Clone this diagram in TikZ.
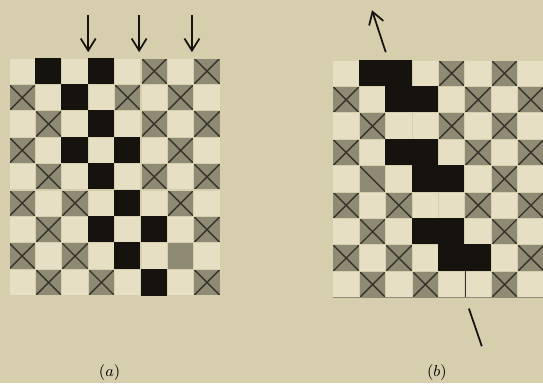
\documentclass[tikz,border=0pt]{standalone}
\usepackage{tikz}
\usetikzlibrary{arrows.meta}
\definecolor{paperTan}{HTML}{D6CEAD}
\definecolor{sqLight}{HTML}{E6DFC4}
\definecolor{sqGray}{HTML}{8F8A74}
\definecolor{sqLine}{HTML}{35332B}
\definecolor{sqInk}{HTML}{16130F}

\begin{document}
\begin{tikzpicture}[x=0.528cm,y=0.528cm,
  lt/.style={fill=sqLight,draw=paperTan,line width=0.6pt},
  gr/.style={fill=sqGray,draw=paperTan,line width=0.6pt},
  gx/.style={gr,path picture={
    \draw[sqLine,line width=0.8pt]
      (path picture bounding box.south west) -- (path picture bounding box.north east)
      (path picture bounding box.north west) -- (path picture bounding box.south east);}},
  gd/.style={gr,path picture={
    \draw[sqLine,line width=0.8pt]
      (path picture bounding box.north west) -- (path picture bounding box.south east);}},
  bk/.style={fill=sqInk,draw=sqInk,line width=0.5pt},
  flow/.style={sqInk,line width=1pt},
  flowarrow/.style={flow,-{Straight Barb[length=2.4mm,width=3mm]}},
  caption/.style={font=\fontsize{9.5pt}{11pt}\selectfont}]
  \fill[paperTan] (-0.3410,-3.3110) rectangle (20.2270,11.1970);
  \useasboundingbox (-0.3410,-3.3110) rectangle (20.2270,11.1970);

  % (a)
  \filldraw[lt] (0.0000,8.0000) rectangle (1.0000,9.0000);
  \filldraw[bk] (1.0000,8.0000) rectangle (2.0000,9.0000);
  \filldraw[lt] (2.0000,8.0000) rectangle (3.0000,9.0000);
  \filldraw[bk] (3.0000,8.0000) rectangle (4.0000,9.0000);
  \filldraw[lt] (4.0000,8.0000) rectangle (5.0000,9.0000);
  \filldraw[gx] (5.0000,8.0000) rectangle (6.0000,9.0000);
  \filldraw[lt] (6.0000,8.0000) rectangle (7.0000,9.0000);
  \filldraw[gx] (7.0000,8.0000) rectangle (8.0000,9.0000);
  \filldraw[gx] (0.0000,7.0000) rectangle (1.0000,8.0000);
  \filldraw[lt] (1.0000,7.0000) rectangle (2.0000,8.0000);
  \filldraw[bk] (2.0000,7.0000) rectangle (3.0000,8.0000);
  \filldraw[lt] (3.0000,7.0000) rectangle (4.0000,8.0000);
  \filldraw[gx] (4.0000,7.0000) rectangle (5.0000,8.0000);
  \filldraw[lt] (5.0000,7.0000) rectangle (6.0000,8.0000);
  \filldraw[gx] (6.0000,7.0000) rectangle (7.0000,8.0000);
  \filldraw[lt] (7.0000,7.0000) rectangle (8.0000,8.0000);
  \filldraw[lt] (0.0000,6.0000) rectangle (1.0000,7.0000);
  \filldraw[gx] (1.0000,6.0000) rectangle (2.0000,7.0000);
  \filldraw[lt] (2.0000,6.0000) rectangle (3.0000,7.0000);
  \filldraw[bk] (3.0000,6.0000) rectangle (4.0000,7.0000);
  \filldraw[lt] (4.0000,6.0000) rectangle (5.0000,7.0000);
  \filldraw[gx] (5.0000,6.0000) rectangle (6.0000,7.0000);
  \filldraw[lt] (6.0000,6.0000) rectangle (7.0000,7.0000);
  \filldraw[gx] (7.0000,6.0000) rectangle (8.0000,7.0000);
  \filldraw[gx] (0.0000,5.0000) rectangle (1.0000,6.0000);
  \filldraw[lt] (1.0000,5.0000) rectangle (2.0000,6.0000);
  \filldraw[bk] (2.0000,5.0000) rectangle (3.0000,6.0000);
  \filldraw[lt] (3.0000,5.0000) rectangle (4.0000,6.0000);
  \filldraw[bk] (4.0000,5.0000) rectangle (5.0000,6.0000);
  \filldraw[lt] (5.0000,5.0000) rectangle (6.0000,6.0000);
  \filldraw[gx] (6.0000,5.0000) rectangle (7.0000,6.0000);
  \filldraw[lt] (7.0000,5.0000) rectangle (8.0000,6.0000);
  \filldraw[lt] (0.0000,4.0000) rectangle (1.0000,5.0000);
  \filldraw[gx] (1.0000,4.0000) rectangle (2.0000,5.0000);
  \filldraw[lt] (2.0000,4.0000) rectangle (3.0000,5.0000);
  \filldraw[bk] (3.0000,4.0000) rectangle (4.0000,5.0000);
  \filldraw[lt] (4.0000,4.0000) rectangle (5.0000,5.0000);
  \filldraw[gx] (5.0000,4.0000) rectangle (6.0000,5.0000);
  \filldraw[lt] (6.0000,4.0000) rectangle (7.0000,5.0000);
  \filldraw[gx] (7.0000,4.0000) rectangle (8.0000,5.0000);
  \filldraw[gx] (0.0000,3.0000) rectangle (1.0000,4.0000);
  \filldraw[lt] (1.0000,3.0000) rectangle (2.0000,4.0000);
  \filldraw[gx] (2.0000,3.0000) rectangle (3.0000,4.0000);
  \filldraw[lt] (3.0000,3.0000) rectangle (4.0000,4.0000);
  \filldraw[bk] (4.0000,3.0000) rectangle (5.0000,4.0000);
  \filldraw[lt] (5.0000,3.0000) rectangle (6.0000,4.0000);
  \filldraw[gx] (6.0000,3.0000) rectangle (7.0000,4.0000);
  \filldraw[lt] (7.0000,3.0000) rectangle (8.0000,4.0000);
  \filldraw[lt] (0.0000,2.0000) rectangle (1.0000,3.0000);
  \filldraw[gx] (1.0000,2.0000) rectangle (2.0000,3.0000);
  \filldraw[lt] (2.0000,2.0000) rectangle (3.0000,3.0000);
  \filldraw[bk] (3.0000,2.0000) rectangle (4.0000,3.0000);
  \filldraw[lt] (4.0000,2.0000) rectangle (5.0000,3.0000);
  \filldraw[bk] (5.0000,2.0000) rectangle (6.0000,3.0000);
  \filldraw[lt] (6.0000,2.0000) rectangle (7.0000,3.0000);
  \filldraw[gx] (7.0000,2.0000) rectangle (8.0000,3.0000);
  \filldraw[gx] (0.0000,1.0000) rectangle (1.0000,2.0000);
  \filldraw[lt] (1.0000,1.0000) rectangle (2.0000,2.0000);
  \filldraw[gx] (2.0000,1.0000) rectangle (3.0000,2.0000);
  \filldraw[lt] (3.0000,1.0000) rectangle (4.0000,2.0000);
  \filldraw[bk] (4.0000,1.0000) rectangle (5.0000,2.0000);
  \filldraw[lt] (5.0000,1.0000) rectangle (6.0000,2.0000);
  \filldraw[gr] (6.0000,1.0000) rectangle (7.0000,2.0000);
  \filldraw[lt] (7.0000,1.0000) rectangle (8.0000,2.0000);
  \filldraw[lt] (0.0000,0.0000) rectangle (1.0000,1.0000);
  \filldraw[gx] (1.0000,0.0000) rectangle (2.0000,1.0000);
  \filldraw[lt] (2.0000,0.0000) rectangle (3.0000,1.0000);
  \filldraw[gx] (3.0000,0.0000) rectangle (4.0000,1.0000);
  \filldraw[lt] (4.0000,0.0000) rectangle (5.0000,1.0000);
  \filldraw[bk] (5.0000,0.0000) rectangle (6.0000,1.0000);
  \filldraw[lt] (6.0000,0.0000) rectangle (7.0000,1.0000);
  \filldraw[gx] (7.0000,0.0000) rectangle (8.0000,1.0000);
  \coordinate (inA1) at (3.0000,10.6100);
  \coordinate (inA2) at (4.9300,10.6100);
  \coordinate (inA3) at (6.9300,10.6100);
  \coordinate (topA1) at (3.0000,9.2200);
  \coordinate (topA2) at (4.9300,9.2200);
  \coordinate (topA3) at (6.9300,9.2200);
  \draw[flowarrow] (inA1) -- (topA1);
  \draw[flowarrow] (inA2) -- (topA2);
  \draw[flowarrow] (inA3) -- (topA3);
  \node[caption] (capA) at (3.8100,-2.9300) {$(a)$};

  % (b)
  \begin{scope}[shift={(12.2700,-0.0800)}]
  \filldraw[lt] (0.0000,8.0000) rectangle (1.0000,9.0000);
  \filldraw[bk] (1.0000,8.0000) rectangle (2.0000,9.0000);
  \filldraw[bk] (2.0000,8.0000) rectangle (3.0000,9.0000);
  \filldraw[lt] (3.0000,8.0000) rectangle (4.0000,9.0000);
  \filldraw[gx] (4.0000,8.0000) rectangle (5.0000,9.0000);
  \filldraw[lt] (5.0000,8.0000) rectangle (6.0000,9.0000);
  \filldraw[gx] (6.0000,8.0000) rectangle (7.0000,9.0000);
  \filldraw[lt] (7.0000,8.0000) rectangle (8.0000,9.0000);
  \filldraw[gx] (0.0000,7.0000) rectangle (1.0000,8.0000);
  \filldraw[lt] (1.0000,7.0000) rectangle (2.0000,8.0000);
  \filldraw[bk] (2.0000,7.0000) rectangle (3.0000,8.0000);
  \filldraw[bk] (3.0000,7.0000) rectangle (4.0000,8.0000);
  \filldraw[lt] (4.0000,7.0000) rectangle (5.0000,8.0000);
  \filldraw[gx] (5.0000,7.0000) rectangle (6.0000,8.0000);
  \filldraw[lt] (6.0000,7.0000) rectangle (7.0000,8.0000);
  \filldraw[gx] (7.0000,7.0000) rectangle (8.0000,8.0000);
  \filldraw[lt] (0.0000,6.0000) rectangle (1.0000,7.0000);
  \filldraw[gx] (1.0000,6.0000) rectangle (2.0000,7.0000);
  \filldraw[lt] (2.0000,6.0000) rectangle (3.0000,7.0000);
  \filldraw[lt] (3.0000,6.0000) rectangle (4.0000,7.0000);
  \filldraw[gx] (4.0000,6.0000) rectangle (5.0000,7.0000);
  \filldraw[lt] (5.0000,6.0000) rectangle (6.0000,7.0000);
  \filldraw[gx] (6.0000,6.0000) rectangle (7.0000,7.0000);
  \filldraw[lt] (7.0000,6.0000) rectangle (8.0000,7.0000);
  \filldraw[gx] (0.0000,5.0000) rectangle (1.0000,6.0000);
  \filldraw[lt] (1.0000,5.0000) rectangle (2.0000,6.0000);
  \filldraw[bk] (2.0000,5.0000) rectangle (3.0000,6.0000);
  \filldraw[bk] (3.0000,5.0000) rectangle (4.0000,6.0000);
  \filldraw[lt] (4.0000,5.0000) rectangle (5.0000,6.0000);
  \filldraw[gx] (5.0000,5.0000) rectangle (6.0000,6.0000);
  \filldraw[lt] (6.0000,5.0000) rectangle (7.0000,6.0000);
  \filldraw[gx] (7.0000,5.0000) rectangle (8.0000,6.0000);
  \filldraw[lt] (0.0000,4.0000) rectangle (1.0000,5.0000);
  \filldraw[gd] (1.0000,4.0000) rectangle (2.0000,5.0000);
  \filldraw[lt] (2.0000,4.0000) rectangle (3.0000,5.0000);
  \filldraw[bk] (3.0000,4.0000) rectangle (4.0000,5.0000);
  \filldraw[bk] (4.0000,4.0000) rectangle (5.0000,5.0000);
  \filldraw[lt] (5.0000,4.0000) rectangle (6.0000,5.0000);
  \filldraw[gx] (6.0000,4.0000) rectangle (7.0000,5.0000);
  \filldraw[lt] (7.0000,4.0000) rectangle (8.0000,5.0000);
  \filldraw[gx] (0.0000,3.0000) rectangle (1.0000,4.0000);
  \filldraw[lt] (1.0000,3.0000) rectangle (2.0000,4.0000);
  \filldraw[gx] (2.0000,3.0000) rectangle (3.0000,4.0000);
  \filldraw[lt] (3.0000,3.0000) rectangle (4.0000,4.0000);
  \filldraw[lt] (4.0000,3.0000) rectangle (5.0000,4.0000);
  \filldraw[gx] (5.0000,3.0000) rectangle (6.0000,4.0000);
  \filldraw[lt] (6.0000,3.0000) rectangle (7.0000,4.0000);
  \filldraw[gx] (7.0000,3.0000) rectangle (8.0000,4.0000);
  \filldraw[lt] (0.0000,2.0000) rectangle (1.0000,3.0000);
  \filldraw[gx] (1.0000,2.0000) rectangle (2.0000,3.0000);
  \filldraw[lt] (2.0000,2.0000) rectangle (3.0000,3.0000);
  \filldraw[bk] (3.0000,2.0000) rectangle (4.0000,3.0000);
  \filldraw[bk] (4.0000,2.0000) rectangle (5.0000,3.0000);
  \filldraw[lt] (5.0000,2.0000) rectangle (6.0000,3.0000);
  \filldraw[gx] (6.0000,2.0000) rectangle (7.0000,3.0000);
  \filldraw[lt] (7.0000,2.0000) rectangle (8.0000,3.0000);
  \filldraw[gx] (0.0000,1.0000) rectangle (1.0000,2.0000);
  \filldraw[lt] (1.0000,1.0000) rectangle (2.0000,2.0000);
  \filldraw[gx] (2.0000,1.0000) rectangle (3.0000,2.0000);
  \filldraw[lt] (3.0000,1.0000) rectangle (4.0000,2.0000);
  \filldraw[bk] (4.0000,1.0000) rectangle (5.0000,2.0000);
  \filldraw[bk] (5.0000,1.0000) rectangle (6.0000,2.0000);
  \filldraw[lt] (6.0000,1.0000) rectangle (7.0000,2.0000);
  \filldraw[gx] (7.0000,1.0000) rectangle (8.0000,2.0000);
  \filldraw[lt] (0.0000,0.0000) rectangle (1.0000,1.0000);
  \filldraw[gx] (1.0000,0.0000) rectangle (2.0000,1.0000);
  \filldraw[lt] (2.0000,0.0000) rectangle (3.0000,1.0000);
  \filldraw[gx] (3.0000,0.0000) rectangle (4.0000,1.0000);
  \filldraw[lt] (4.0000,0.0000) rectangle (5.0000,1.0000);
  \filldraw[lt] (5.0000,0.0000) rectangle (6.0000,1.0000);
  \filldraw[gx] (6.0000,0.0000) rectangle (7.0000,1.0000);
  \filldraw[lt] (7.0000,0.0000) rectangle (8.0000,1.0000);
  \draw[sqLine,line width=0.5pt] (5.0000,0.0000) -- (5.0000,1.0000);
  \draw[sqGray,line width=0.5pt] (0.0000,0.0000) -- (8.0000,0.0000);
  \coordinate (outB) at (2.0000,9.3000);
  \coordinate (tipB) at (1.4800,10.8900);
  \coordinate (inB) at (5.1500,-0.4100);
  \coordinate (tailB) at (5.6400,-1.8400);
  \draw[flowarrow] (outB) -- (tipB);
  \draw[flow] (inB) -- (tailB);
  \node[caption] (capB) at (3.9400,-2.8200) {$(b)$};
  \end{scope}
\end{tikzpicture}
\end{document}
